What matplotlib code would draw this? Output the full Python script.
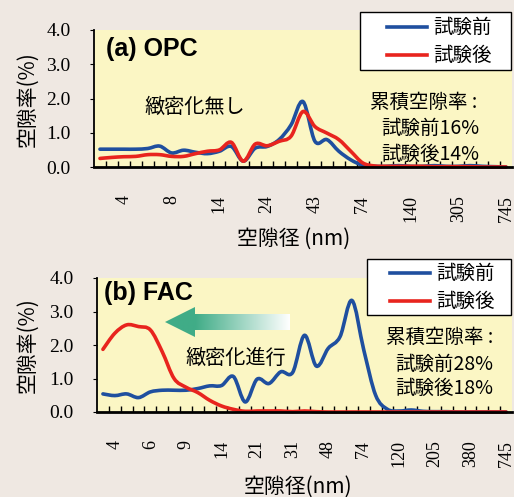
import numpy as np
import matplotlib
matplotlib.use("Agg")
import matplotlib.pyplot as plt
from matplotlib.patches import Polygon, Rectangle, PathPatch
from matplotlib.path import Path
from matplotlib.colors import LinearSegmentedColormap

plt.rcParams['font.family'] = ['Noto Sans CJK JP', 'DejaVu Sans']

# pore size categories (35 bins per panel), only some are labelled
opc_tick_labels = ['4', '8', '14', '24', '43', '74', '140', '305', '745']
fac_tick_labels = ['4', '6', '9', '14', '21', '31', '48', '74', '120', '205', '380', '745']

opc_before = [0.52, 0.52, 0.52, 0.52, 0.54, 0.61, 0.41, 0.49, 0.43, 0.39, 0.46, 0.60,
              0.17, 0.55, 0.60, 0.80, 1.23, 1.91, 0.75, 0.80, 0.46, 0.21, 0.05, 0.02,
              0.02, 0.04, 0.02, 0.02, 0.04, 0.02, 0.02, 0.04, 0.02, 0.01, 0.00]
opc_after = [0.25, 0.28, 0.30, 0.31, 0.36, 0.36, 0.31, 0.31, 0.39, 0.46, 0.50, 0.72,
             0.17, 0.67, 0.62, 0.75, 0.90, 1.62, 1.18, 0.99, 0.80, 0.46, 0.12, 0.03,
             0.02, 0.02, 0.02, 0.02, 0.01, 0.01, 0.01, 0.01, 0.00, 0.00, 0.00]
fac_before = [0.54, 0.49, 0.54, 0.43, 0.60, 0.65, 0.65, 0.65, 0.70, 0.78, 0.79, 1.06,
              0.30, 0.98, 0.85, 1.20, 1.18, 2.29, 1.37, 1.90, 2.25, 3.33, 1.85, 0.50,
              0.08, 0.03, 0.06, 0.02, 0.01, 0.01, 0.00, 0.00, 0.00, 0.00, 0.00]
fac_after = [1.87, 2.35, 2.60, 2.55, 2.45, 1.80, 1.00, 0.74, 0.58, 0.35, 0.18, 0.08,
             0.02, 0.03, 0.03, 0.03, 0.01, 0.03, 0.01, 0.00, 0.00, 0.00, 0.00, 0.00,
             0.00, 0.00, 0.00, 0.00, 0.00, 0.00, 0.00, 0.00, 0.00, 0.00, 0.00]

W, H = 514, 497
BG = '#efe8e2'
PLOT_BG = '#fbf6c4'
BLUE = '#1f4f9f'
RED = '#e8241e'
SERIF = 'Liberation Serif'


def fx(x):
    return x / W


def fy(y):
    return 1 - y / H


def smooth_line(ax, y, color, z):
    # Excel-style smoothed line: cubic Bezier through each data point
    x = np.arange(len(y), dtype=float)
    y = np.asarray(y, dtype=float)
    verts = [(x[0], y[0])]
    codes = [Path.MOVETO]
    for i in range(len(y) - 1):
        p0 = i - 1 if i > 0 else i
        p3 = i + 2 if i + 2 < len(y) else i + 1
        c1 = (x[i] + (x[i + 1] - x[p0]) / 6, y[i] + (y[i + 1] - y[p0]) / 6)
        c2 = (x[i + 1] - (x[p3] - x[i]) / 6, y[i + 1] - (y[p3] - y[i]) / 6)
        verts += [c1, c2, (x[i + 1], y[i + 1])]
        codes += [Path.CURVE4] * 3
    ax.add_patch(PathPatch(Path(verts, codes), facecolor='none', edgecolor=color,
                           lw=2.6, joinstyle='round', capstyle='round', zorder=z,
                           clip_on=False))


fig = plt.figure(figsize=(W / 100, H / 100), dpi=100, facecolor=BG)


def make_panel(rect_px, before, after, labels, first, step):
    x0, y0, x1, y1 = rect_px
    ax = fig.add_axes([fx(x0), fy(y1), fx(x1 - x0), (y1 - y0) / H])
    ax.set_facecolor(PLOT_BG)
    smooth_line(ax, before, BLUE, 3)
    smooth_line(ax, after, RED, 4)
    ax.set_xlim(-0.5, len(before) - 0.5)
    ax.set_ylim(0, 4)
    ax.set_yticks([0, 1, 2, 3, 4])
    ax.set_yticklabels(['0.0', '1.0', '2.0', '3.0', '4.0'], family=SERIF, fontsize=14)
    ax.tick_params(axis='y', direction='out', length=3, pad=14)
    ax.set_xticks(np.arange(first, len(before), step))
    ax.set_xticklabels(labels, rotation=90, family=SERIF, fontsize=13, va='top')
    ax.tick_params(axis='x', which='major', length=0, pad=20)
    ax.set_xticks(np.arange(0.5, len(before) - 0.5, 1), minor=True)
    ax.tick_params(axis='x', which='minor', direction='in', length=4, width=1)
    for s in ['top', 'right']:
        ax.spines[s].set_visible(False)
    ax.spines['bottom'].set_linewidth(2)
    ax.spines['bottom'].set_zorder(6)
    ax.spines['left'].set_linewidth(1.3)
    return ax


ax1 = make_panel((94, 30, 512, 167), opc_before, opc_after, opc_tick_labels, 2, 4)
ax2 = make_panel((97, 278, 512, 412), fac_before, fac_after, fac_tick_labels, 1, 3)

# axis titles
fig.text(fx(28), fy(99), '空隙率(%)', rotation=90, ha='center', va='center', fontsize=15)
fig.text(fx(28), fy(345), '空隙率(%)', rotation=90, ha='center', va='center', fontsize=15)
fig.text(fx(294), fy(239), '空隙径 (nm)', ha='center', va='center', fontsize=15)
fig.text(fx(298), fy(487), '空隙径(nm)', ha='center', va='center', fontsize=15)

# panel labels
fig.text(fx(106), fy(49), '(a) OPC', ha='left', va='center', fontsize=18,
         family='Liberation Sans', weight='bold')
fig.text(fx(104), fy(293), '(b) FAC', ha='left', va='center', fontsize=18,
         family='Liberation Sans', weight='bold')

# annotations
fig.text(fx(195), fy(107), '緻密化無し', ha='center', va='center', fontsize=14.5)
fig.text(fx(424), fy(102), '累積空隙率 :', ha='center', va='center', fontsize=14)
fig.text(fx(430), fy(128), '試験前16%', ha='center', va='center', fontsize=14)
fig.text(fx(430), fy(154), '試験後14%', ha='center', va='center', fontsize=14)

fig.text(fx(236), fy(358), '緻密化進行', ha='center', va='center', fontsize=14.5)
fig.text(fx(440), fy(337), '累積空隙率 :', ha='center', va='center', fontsize=14)
fig.text(fx(444), fy(364), '試験前28%', ha='center', va='center', fontsize=14)
fig.text(fx(444), fy(388), '試験後18%', ha='center', va='center', fontsize=14)

# overlay in pixel coordinates for legends and the arrow
ov = fig.add_axes([0, 0, 1, 1], facecolor='none')
ov.set_xlim(0, W)
ov.set_ylim(H, 0)
ov.axis('off')

legend_names = ['試験前', '試験後']
for (bx0, by0, bx1, by1, lx0, lx1, rows) in [(360, 12, 511, 70, 387, 427, (27, 55)),
                                              (367, 259, 511, 315, 390, 430, (273, 301))]:
    ov.add_patch(Rectangle((bx0, by0), bx1 - bx0, by1 - by0, facecolor='white',
                           edgecolor='black', lw=1, zorder=7))
    for name, color, ry in zip(legend_names, [BLUE, RED], rows):
        ov.plot([lx0, lx1], [ry, ry], color=color, lw=2.6, zorder=8)
        ov.text(lx1 + 6, ry, name, ha='left', va='center', fontsize=14, zorder=8)

# gradient arrow in panel (b)
arrow = Polygon([(165, 322), (195, 307), (195, 314), (290, 314), (290, 330),
                 (195, 330), (195, 337)], closed=True, facecolor='none', edgecolor='none')
ov.add_patch(arrow)
grad = np.clip((np.linspace(165, 290, 200) - 195) / 95, 0, 1)[None, :]
cmap = LinearSegmentedColormap.from_list('g', ['#40ac87', '#ffffff'])
im = ov.imshow(grad, cmap=cmap, extent=(165, 290, 337, 307), aspect='auto', zorder=5)
im.set_clip_path(arrow)
ov.set_xlim(0, W)
ov.set_ylim(H, 0)

fig.savefig('out.png', dpi=100, facecolor=BG)
